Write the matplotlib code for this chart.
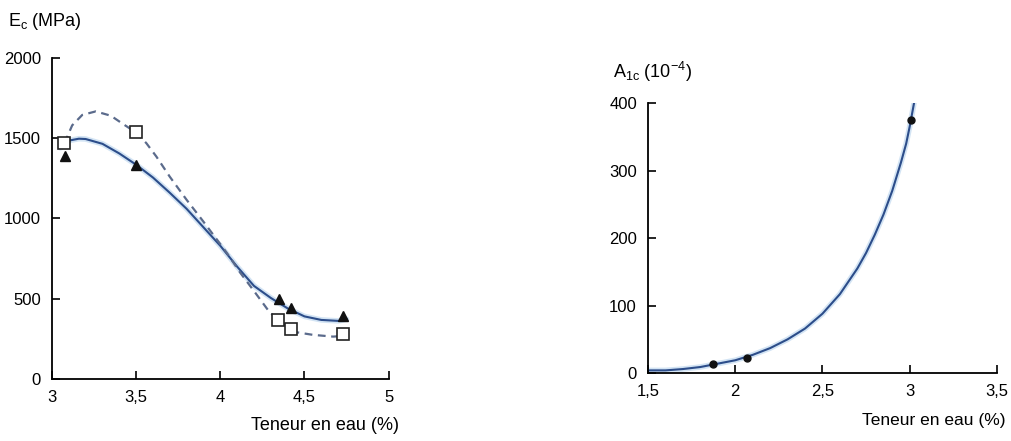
import numpy as np
import matplotlib
matplotlib.use("Agg")
from matplotlib import pyplot as plt

plt.rcParams['font.family'] = ['Liberation Sans Narrow', 'Liberation Sans', 'DejaVu Sans']

# left chart : Ec vs teneur en eau
tri_x = [3.08, 3.5, 4.35, 4.42, 4.73]
tri_y = [1390, 1330, 500, 440, 390]
sq_x = [3.07, 3.5, 4.34, 4.42, 4.73]
sq_y = [1470, 1540, 370, 310, 280]

# fitted curves
solid_x = [3.05, 3.1, 3.16, 3.2, 3.3, 3.4, 3.5, 3.6, 3.7, 3.8, 3.9, 4.0, 4.1, 4.2, 4.3, 4.4, 4.5, 4.6, 4.7, 4.75]
solid_y = [1440, 1485, 1497, 1495, 1465, 1405, 1335, 1255, 1160, 1060, 945, 830, 700, 580, 505, 440, 390, 368, 362, 372]
dash_x = [3.075, 3.12, 3.18, 3.26, 3.35, 3.42, 3.49, 3.56, 3.62, 3.7, 3.8, 3.9, 4.04, 4.12, 4.21, 4.29, 4.34, 4.43, 4.55, 4.67, 4.73]
dash_y = [1470, 1580, 1645, 1667, 1640, 1590, 1542, 1470, 1386, 1260, 1116, 980, 784, 660, 534, 420, 370, 295, 275, 264, 268]

# right chart : A1c vs teneur en eau
pt_x = [1.87, 2.07, 3.01]
pt_y = [14, 22, 375]
fit_x = [1.5, 1.6, 1.7, 1.8, 1.9, 2.0, 2.1, 2.2, 2.3, 2.4, 2.5, 2.6, 2.7, 2.75, 2.8, 2.85, 2.9, 2.95, 2.98, 3.0, 3.025]
fit_y = [4, 4, 6, 9, 14, 19, 27, 37, 50, 66, 88, 117, 155, 178, 205, 235, 270, 312, 340, 365, 400]

blue = '#2c4d8a'
halo = '#d3e4f4'

fig = plt.figure(figsize=(10.11, 4.41), dpi=100)

ax1 = fig.add_axes([0.0514, 0.1406, 0.333, 0.728])
ax1.plot(solid_x, solid_y, color=halo, lw=4, solid_capstyle='round', zorder=1)
ax1.plot(solid_x, solid_y, color=blue, lw=1.5, zorder=2)
ax1.plot(dash_x, dash_y, color='#5b6b8c', lw=1.6, ls=(0, (3.5, 2.5)), zorder=2)
ax1.plot(tri_x, tri_y, '^', color='#111111', ms=7, ls='none', zorder=3)
ax1.plot(sq_x, sq_y, 's', mfc='white', mec='#222222', mew=1.2, ms=8, ls='none', zorder=3)
ax1.set_xlim(3, 5)
ax1.set_ylim(0, 2000)
ax1.set_xticks([3, 3.5, 4, 4.5, 5])
ax1.set_xticklabels(['3', '3,5', '4', '4,5', '5'])
ax1.set_yticks([0, 500, 1000, 1500, 2000])
ax1.text(-0.13, 1.08, r'E$_\mathregular{c}$ (MPa)', transform=ax1.transAxes, fontsize=13, va='bottom')
ax1.text(1.03, -0.145, 'Teneur en eau (%)', transform=ax1.transAxes, fontsize=13, ha='right', va='center')

ax2 = fig.add_axes([0.641, 0.154, 0.345, 0.612])
ax2.plot(fit_x, fit_y, color=halo, lw=4, solid_capstyle='round', zorder=1)
ax2.plot(fit_x, fit_y, color=blue, lw=1.5, zorder=2)
ax2.plot(pt_x, pt_y, 'o', color='#111111', ms=5, ls='none', zorder=3)
ax2.set_xlim(1.5, 3.5)
ax2.set_ylim(0, 400)
ax2.set_xticks([1.5, 2, 2.5, 3, 3.5])
ax2.set_xticklabels(['1,5', '2', '2,5', '3', '3,5'])
ax2.set_yticks([0, 100, 200, 300, 400])
ax2.text(-0.1, 1.07, r'A$_\mathregular{1c}$ (10$^\mathregular{-4}$)', transform=ax2.transAxes, fontsize=13, va='bottom')
ax2.text(1.025, -0.175, 'Teneur en eau (%)', transform=ax2.transAxes, fontsize=12.5, ha='right', va='center')

for ax in (ax1, ax2):
    ax.spines['top'].set_visible(False)
    ax.spines['right'].set_visible(False)
    ax.spines['left'].set_linewidth(1.3)
    ax.spines['bottom'].set_linewidth(1.3)
    ax.tick_params(direction='in', length=6, width=1.2, labelsize=12, pad=8)

fig.savefig('out.png', dpi=100)
